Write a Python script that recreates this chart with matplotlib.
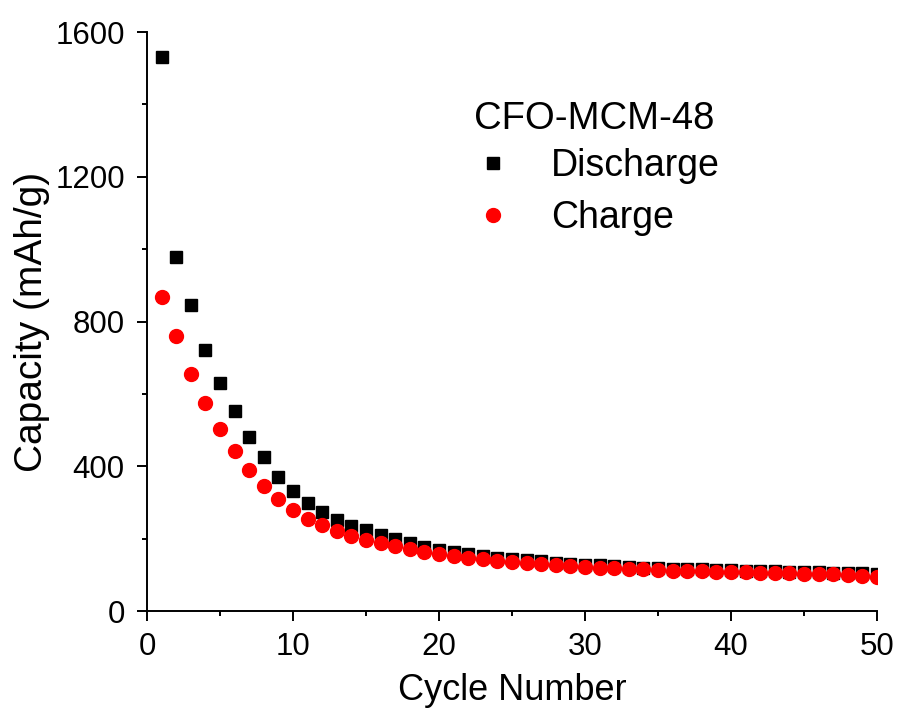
import matplotlib

matplotlib.use("Agg")

import matplotlib.pyplot as plt
import numpy as np
from matplotlib.ticker import MultipleLocator

cycles = np.arange(1, 51)
discharge = [
    1530, 978, 845, 721, 630, 552, 481, 425, 370, 331,
    298, 273, 251, 235, 224, 210, 198, 187, 178, 170,
    164, 158, 152, 147, 143, 140, 137, 134, 131, 128,
    126, 124, 122, 120, 119, 117, 116, 115, 114, 113,
    112, 111, 110, 109, 108, 107, 106, 105, 104, 102,
]
charge = [
    867, 760, 655, 575, 503, 442, 390, 345, 309, 279,
    254, 238, 222, 208, 196, 187, 179, 171, 164, 157,
    152, 147, 143, 139, 136, 133, 130, 127, 125, 122,
    120, 118, 117, 115, 114, 112, 111, 110, 109, 108,
    107, 106, 105, 104, 103, 102, 101, 99, 97, 95,
]

plt.rcParams.update({
    "font.family": ["Liberation Sans", "DejaVu Sans"],
    "font.size": 24,
})

fig = plt.figure(figsize=(8.99, 7.13), dpi=100)
ax = fig.add_axes([0.1635, 0.143, 0.812, 0.812])

ax.plot(cycles, discharge, linestyle="none", marker="s", markersize=8.6,
        color="black", label="Discharge")
ax.plot(cycles, charge, linestyle="none", marker="o", markersize=10,
        color="red", label="Charge")

ax.set_xlim(0, 50)
ax.set_ylim(0, 1600)
ax.xaxis.set_major_locator(MultipleLocator(10))
ax.xaxis.set_minor_locator(MultipleLocator(5))
ax.yaxis.set_major_locator(MultipleLocator(400))
ax.yaxis.set_minor_locator(MultipleLocator(200))

for side in ["top", "right"]:
    ax.spines[side].set_visible(False)
for side in ["left", "bottom"]:
    ax.spines[side].set_linewidth(1.4)

ax.tick_params(which="major", direction="out", length=7, width=1.4,
               labelsize=22.5)
ax.tick_params(axis="x", which="major", pad=8)
ax.tick_params(axis="y", which="major", pad=9)
ax.tick_params(which="minor", direction="out", length=3.6, width=1.4)

ax.set_xlabel("Cycle Number", fontsize=26, labelpad=8)
ax.set_ylabel("Capacity (mAh/g)", fontsize=28, labelpad=4)

leg = ax.legend(
    title="CFO-MCM-48",
    frameon=False,
    fontsize=27,
    title_fontsize=27.5,
    loc="upper left",
    bbox_to_anchor=(474 / 899, 1 - 101 / 713),
    bbox_transform=fig.transFigure,
    borderpad=0,
    borderaxespad=0,
    handlelength=1.0,
    handletextpad=1.05,
    labelspacing=0.42,
    alignment="left",
)
leg._legend_box.sep = 8

fig.savefig("out.png", dpi=100)
